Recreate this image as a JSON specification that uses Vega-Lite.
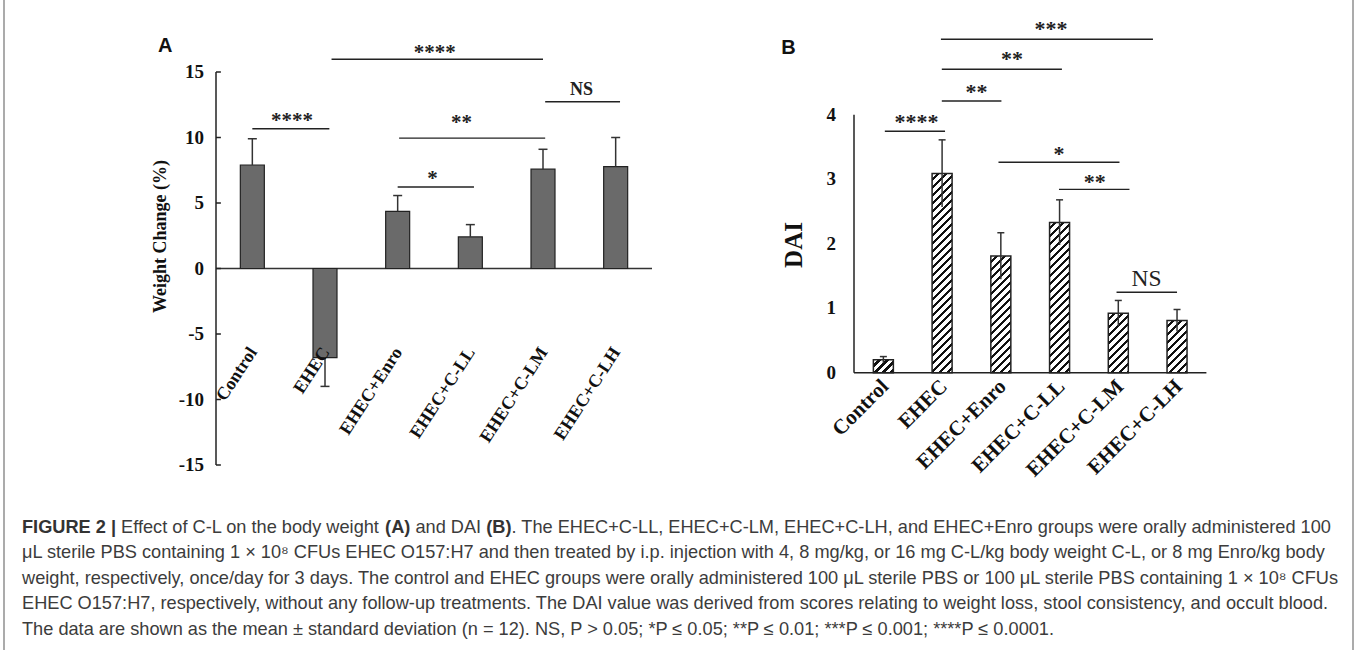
{
  "$schema": "https://vega.github.io/schema/vega-lite/v6.json",
  "width": 1357,
  "height": 650,
  "padding": 0,
  "autosize": {"type": "none"},
  "background": "#ffffff",
  "config": {"view": {"stroke": null}, "axis": {"grid": false}},
  "datasets": {
    "one": [{}],
    "barsA": [
      {"group": "Control", "i": 0, "value": 7.9, "err": 9.9},
      {"group": "EHEC", "i": 1, "value": -6.8, "err": -9.0},
      {"group": "EHEC+Enro", "i": 2, "value": 4.36, "err": 5.57},
      {"group": "EHEC+C-LL", "i": 3, "value": 2.41, "err": 3.35},
      {"group": "EHEC+C-LM", "i": 4, "value": 7.58, "err": 9.1},
      {"group": "EHEC+C-LH", "i": 5, "value": 7.78, "err": 10.0}
    ],
    "ticksA": [
      {"v": -15, "label": "-15"}, {"v": -10, "label": "-10"}, {"v": -5, "label": "-5"}, {"v": 0, "label": "0"},
      {"v": 5, "label": "5"}, {"v": 10, "label": "10"}, {"v": 15, "label": "15"}
    ],
    "sigA": [
      {"x1": 1.09, "x2": 4.0, "y": 15.97, "tx": 2.51, "ty": 15.96, "label": "****"},
      {"x1": 0, "x2": 1.06, "y": 10.67, "tx": 0.545, "ty": 10.82, "label": "****"},
      {"x1": 4.03, "x2": 5.06, "y": 12.73, "tx": 4.53, "ty": 13.21, "label": "NS"},
      {"x1": 2.02, "x2": 4.03, "y": 9.95, "tx": 2.88, "ty": 10.67, "label": "**"},
      {"x1": 2.0, "x2": 3.05, "y": 6.22, "tx": 2.48, "ty": 6.37, "label": "*"}
    ],
    "barsB": [
      {"group": "Control", "i": 0, "value": 0.2, "lo": 0.15, "hi": 0.25},
      {"group": "EHEC", "i": 1, "value": 3.09, "lo": 2.57, "hi": 3.61},
      {"group": "EHEC+Enro", "i": 2, "value": 1.81, "lo": 1.45, "hi": 2.17},
      {"group": "EHEC+C-LL", "i": 3, "value": 2.33, "lo": 1.98, "hi": 2.68},
      {"group": "EHEC+C-LM", "i": 4, "value": 0.92, "lo": 0.72, "hi": 1.12},
      {"group": "EHEC+C-LH", "i": 5, "value": 0.81, "lo": 0.64, "hi": 0.98}
    ],
    "ticksB": [
      {"v": 0, "label": "0"}, {"v": 1, "label": "1"}, {"v": 2, "label": "2"}, {"v": 3, "label": "3"}, {"v": 4, "label": "4"}
    ],
    "sigB": [
      {"x1": 0.025, "x2": 1.05, "y": 3.743, "tx": 0.565, "ty": 3.78, "label": "****"},
      {"x1": 0.995, "x2": 2.01, "y": 4.212, "tx": 1.586, "ty": 4.243, "label": "**"},
      {"x1": 0.995, "x2": 3.04, "y": 4.704, "tx": 2.19, "ty": 4.76, "label": "**"},
      {"x1": 0.98, "x2": 4.59, "y": 5.169, "tx": 2.856, "ty": 5.214, "label": "***"},
      {"x1": 1.96, "x2": 4.02, "y": 3.262, "tx": 2.99, "ty": 3.276, "label": "*"},
      {"x1": 2.99, "x2": 4.19, "y": 2.843, "tx": 3.6, "ty": 2.853, "label": "**"},
      {"x1": 3.97, "x2": 5.0, "y": 1.247, "tx": 4.48, "ty": 1.343, "label": "NS"}
    ],
    "caption": [
      {"line": 1, "seg": "head", "text": "FIGURE 2 |"},
      {"line": 1, "seg": "s1", "text": "Effect of C-L on the body weight"},
      {"line": 1, "seg": "bA", "text": "(A)"},
      {"line": 1, "seg": "s2", "text": "and DAI"},
      {"line": 1, "seg": "bB", "text": "(B)"},
      {"line": 1, "seg": "s3", "text": ". The EHEC+C-LL, EHEC+C-LM, EHEC+C-LH, and EHEC+Enro groups were orally administered 100"},
      {"line": 2, "seg": "body", "text": "μL sterile PBS containing 1 × 10⁸ CFUs EHEC O157:H7 and then treated by i.p. injection with 4, 8 mg/kg, or 16 mg C-L/kg body weight C-L, or 8 mg Enro/kg body"},
      {"line": 3, "seg": "body", "text": "weight, respectively, once/day for 3 days. The control and EHEC groups were orally administered 100 μL sterile PBS or 100 μL sterile PBS containing 1 × 10⁸ CFUs"},
      {"line": 4, "seg": "body", "text": "EHEC O157:H7, respectively, without any follow-up treatments. The DAI value was derived from scores relating to weight loss, stool consistency, and occult blood."},
      {"line": 5, "seg": "body", "text": "The data are shown as the mean ± standard deviation (n = 12). NS, P > 0.05; *P ≤ 0.05; **P ≤ 0.01; ***P ≤ 0.001; ****P ≤ 0.0001."}
    ]
  },
  "layer": [
    {
      "layer": [
        {
          "data": {"name": "one"},
          "mark": {"type": "rule", "color": "#333333", "strokeWidth": 1.5},
          "encoding": {
            "x": {"datum": -0.5, "type": "quantitative", "scale": {"domain": [-0.5, 5.5], "range": [211, 657], "nice": false, "zero": false}, "axis": null},
            "x2": {"datum": 5.5},
            "y": {"datum": 0, "type": "quantitative", "scale": {"domain": [-15, 15], "range": [465, 72], "nice": false, "zero": false}, "axis": null}
          }
        },
        {
          "data": {"name": "one"},
          "mark": {"type": "rule", "color": "#222222", "strokeWidth": 1.5},
          "encoding": {
            "x": {"datum": -0.5, "type": "quantitative", "scale": {"domain": [-0.5, 5.5], "range": [211, 657], "nice": false, "zero": false}, "axis": null},
            "y": {"datum": -15, "type": "quantitative", "scale": {"domain": [-15, 15], "range": [465, 72], "nice": false, "zero": false}, "axis": null},
            "y2": {"datum": 15}
          }
        },
        {
          "data": {"name": "ticksA"},
          "mark": {"type": "rule", "color": "#222222", "strokeWidth": 1.5},
          "encoding": {
            "x": {"datum": -0.5, "type": "quantitative", "scale": {"domain": [-0.5, 5.5], "range": [211, 657], "nice": false, "zero": false}, "axis": null},
            "x2": {"datum": -0.4327},
            "y": {"field": "v", "type": "quantitative", "scale": {"domain": [-15, 15], "range": [465, 72], "nice": false, "zero": false}, "axis": null}
          }
        },
        {
          "data": {"name": "ticksA"},
          "mark": {"type": "text", "font": "Liberation Serif", "fontWeight": "bold", "fontSize": 19, "align": "right", "baseline": "middle", "color": "#111111", "dx": -12},
          "encoding": {
            "x": {"datum": -0.5, "type": "quantitative", "scale": {"domain": [-0.5, 5.5], "range": [211, 657], "nice": false, "zero": false}, "axis": null},
            "y": {"field": "v", "type": "quantitative", "scale": {"domain": [-15, 15], "range": [465, 72], "nice": false, "zero": false}, "axis": null},
            "text": {"field": "label"}
          }
        },
        {
          "data": {"name": "one"},
          "mark": {"type": "text", "text": "Weight Change (%)", "angle": 270, "font": "Liberation Serif", "fontWeight": "bold", "fontSize": 18, "align": "center", "baseline": "middle", "color": "#111111"},
          "encoding": {
            "x": {"datum": -1.26, "type": "quantitative", "scale": {"domain": [-0.5, 5.5], "range": [211, 657], "nice": false, "zero": false}, "axis": null},
            "y": {"datum": 2.44, "type": "quantitative", "scale": {"domain": [-15, 15], "range": [465, 72], "nice": false, "zero": false}, "axis": null}
          }
        },
        {
          "data": {"name": "barsA"},
          "mark": {"type": "bar", "width": 24, "fill": "#6a6a6a", "stroke": "#222222", "strokeWidth": 1.2},
          "encoding": {
            "x": {"field": "i", "type": "quantitative", "scale": {"domain": [-0.5, 5.5], "range": [211, 657], "nice": false, "zero": false}, "axis": null},
            "y": {"field": "value", "type": "quantitative", "scale": {"domain": [-15, 15], "range": [465, 72], "nice": false, "zero": false}, "axis": null},
            "y2": {"datum": 0}
          }
        },
        {
          "data": {"name": "barsA"},
          "mark": {"type": "rule", "color": "#333333", "strokeWidth": 1.5},
          "encoding": {
            "x": {"field": "i", "type": "quantitative", "scale": {"domain": [-0.5, 5.5], "range": [211, 657], "nice": false, "zero": false}, "axis": null},
            "y": {"field": "value", "type": "quantitative", "scale": {"domain": [-15, 15], "range": [465, 72], "nice": false, "zero": false}, "axis": null},
            "y2": {"field": "err"}
          }
        },
        {
          "data": {"name": "barsA"},
          "mark": {"type": "tick", "orient": "horizontal", "size": 9, "thickness": 1.5, "color": "#333333", "opacity": 1},
          "encoding": {
            "x": {"field": "i", "type": "quantitative", "scale": {"domain": [-0.5, 5.5], "range": [211, 657], "nice": false, "zero": false}, "axis": null},
            "y": {"field": "err", "type": "quantitative", "scale": {"domain": [-15, 15], "range": [465, 72], "nice": false, "zero": false}, "axis": null}
          }
        },
        {
          "data": {"name": "barsA"},
          "mark": {"type": "text", "angle": 303, "font": "Liberation Serif", "fontWeight": "bold", "fontSize": 18, "align": "right", "baseline": "middle", "color": "#111111", "dx": 2},
          "encoding": {
            "x": {"field": "i", "type": "quantitative", "scale": {"domain": [-0.5, 5.5], "range": [211, 657], "nice": false, "zero": false}, "axis": null},
            "y": {"datum": -6.3, "type": "quantitative", "scale": {"domain": [-15, 15], "range": [465, 72], "nice": false, "zero": false}, "axis": null},
            "text": {"field": "group"}
          }
        },
        {
          "data": {"name": "sigA"},
          "mark": {"type": "rule", "color": "#222222", "strokeWidth": 1.4},
          "encoding": {
            "x": {"field": "x1", "type": "quantitative", "scale": {"domain": [-0.5, 5.5], "range": [211, 657], "nice": false, "zero": false}, "axis": null},
            "x2": {"field": "x2"},
            "y": {"field": "y", "type": "quantitative", "scale": {"domain": [-15, 15], "range": [465, 72], "nice": false, "zero": false}, "axis": null}
          }
        },
        {
          "data": {"name": "sigA"},
          "mark": {"type": "text", "font": "Liberation Serif", "fontWeight": "bold", "align": "center", "baseline": "alphabetic", "color": "#222222"},
          "encoding": {
            "x": {"field": "tx", "type": "quantitative", "scale": {"domain": [-0.5, 5.5], "range": [211, 657], "nice": false, "zero": false}, "axis": null},
            "y": {"field": "ty", "type": "quantitative", "scale": {"domain": [-15, 15], "range": [465, 72], "nice": false, "zero": false}, "axis": null},
            "text": {"field": "label"},
            "size": {"condition": {"test": "datum.label === 'NS'", "value": 18}, "value": 21}
          }
        },
        {
          "data": {"name": "one"},
          "mark": {"type": "text", "text": "A", "font": "Liberation Sans", "fontWeight": "bold", "fontSize": 20, "align": "center", "baseline": "alphabetic", "color": "#111111"},
          "encoding": {
            "x": {"datum": -1.2, "type": "quantitative", "scale": {"domain": [-0.5, 5.5], "range": [211, 657], "nice": false, "zero": false}, "axis": null},
            "y": {"datum": 16.53, "type": "quantitative", "scale": {"domain": [-15, 15], "range": [465, 72], "nice": false, "zero": false}, "axis": null}
          }
        }
      ]
    },
    {
      "layer": [
        {
          "data": {"name": "barsB"},
          "mark": {"type": "bar", "width": 20, "stroke": "#222222", "strokeWidth": 1.5},
          "encoding": {
            "x": {"field": "i", "type": "quantitative", "scale": {"domain": [-0.5, 5.5], "range": [849, 1211.4], "nice": false, "zero": false}, "axis": null},
            "y": {"field": "value", "type": "quantitative", "scale": {"domain": [0, 4], "range": [372.7, 114.7], "nice": false, "zero": false}, "axis": null},
            "y2": {"datum": 0},
            "fill": {
              "condition": [
                {"test": "datum.group === 'Control'", "value": {"gradient": "linear", "x1": 0, "y1": 0, "x2": 1.162, "y2": 0.749, "stops": [
                  {"offset": 0, "color": "#fff"}, {"offset": 0.1411, "color": "#fff"}, {"offset": 0.1411, "color": "#111"}, {"offset": 0.2433, "color": "#111"},
                  {"offset": 0.2433, "color": "#fff"}, {"offset": 0.3844, "color": "#fff"}, {"offset": 0.3844, "color": "#111"}, {"offset": 0.4866, "color": "#111"},
                  {"offset": 0.4866, "color": "#fff"}, {"offset": 0.6277, "color": "#fff"}, {"offset": 0.6277, "color": "#111"}, {"offset": 0.7299, "color": "#111"},
                  {"offset": 0.7299, "color": "#fff"}, {"offset": 0.871, "color": "#fff"}, {"offset": 0.871, "color": "#111"}, {"offset": 0.9732, "color": "#111"},
                  {"offset": 0.9732, "color": "#fff"}, {"offset": 1, "color": "#fff"}]}},
                {"test": "datum.group === 'EHEC'", "value": {"gradient": "linear", "x1": 0, "y1": 0, "x2": 0.1093, "y2": 1.0894, "stops": [
                  {"offset": 0, "color": "#fff"}, {"offset": 0.0212, "color": "#fff"}, {"offset": 0.0212, "color": "#111"}, {"offset": 0.0365, "color": "#111"},
                  {"offset": 0.0365, "color": "#fff"}, {"offset": 0.0577, "color": "#fff"}, {"offset": 0.0577, "color": "#111"}, {"offset": 0.073, "color": "#111"},
                  {"offset": 0.073, "color": "#fff"}, {"offset": 0.0942, "color": "#fff"}, {"offset": 0.0942, "color": "#111"}, {"offset": 0.1095, "color": "#111"},
                  {"offset": 0.1095, "color": "#fff"}, {"offset": 0.1307, "color": "#fff"}, {"offset": 0.1307, "color": "#111"}, {"offset": 0.146, "color": "#111"},
                  {"offset": 0.146, "color": "#fff"}, {"offset": 0.1672, "color": "#fff"}, {"offset": 0.1672, "color": "#111"}, {"offset": 0.1825, "color": "#111"},
                  {"offset": 0.1825, "color": "#fff"}, {"offset": 0.2037, "color": "#fff"}, {"offset": 0.2037, "color": "#111"}, {"offset": 0.219, "color": "#111"},
                  {"offset": 0.219, "color": "#fff"}, {"offset": 0.2402, "color": "#fff"}, {"offset": 0.2402, "color": "#111"}, {"offset": 0.2555, "color": "#111"},
                  {"offset": 0.2555, "color": "#fff"}, {"offset": 0.2767, "color": "#fff"}, {"offset": 0.2767, "color": "#111"}, {"offset": 0.292, "color": "#111"},
                  {"offset": 0.292, "color": "#fff"}, {"offset": 0.3132, "color": "#fff"}, {"offset": 0.3132, "color": "#111"}, {"offset": 0.3285, "color": "#111"},
                  {"offset": 0.3285, "color": "#fff"}, {"offset": 0.3497, "color": "#fff"}, {"offset": 0.3497, "color": "#111"}, {"offset": 0.365, "color": "#111"},
                  {"offset": 0.365, "color": "#fff"}, {"offset": 0.3862, "color": "#fff"}, {"offset": 0.3862, "color": "#111"}, {"offset": 0.4015, "color": "#111"},
                  {"offset": 0.4015, "color": "#fff"}, {"offset": 0.4227, "color": "#fff"}, {"offset": 0.4227, "color": "#111"}, {"offset": 0.438, "color": "#111"},
                  {"offset": 0.438, "color": "#fff"}, {"offset": 0.4592, "color": "#fff"}, {"offset": 0.4592, "color": "#111"}, {"offset": 0.4745, "color": "#111"},
                  {"offset": 0.4745, "color": "#fff"}, {"offset": 0.4957, "color": "#fff"}, {"offset": 0.4957, "color": "#111"}, {"offset": 0.511, "color": "#111"},
                  {"offset": 0.511, "color": "#fff"}, {"offset": 0.5322, "color": "#fff"}, {"offset": 0.5322, "color": "#111"}, {"offset": 0.5475, "color": "#111"},
                  {"offset": 0.5475, "color": "#fff"}, {"offset": 0.5687, "color": "#fff"}, {"offset": 0.5687, "color": "#111"}, {"offset": 0.584, "color": "#111"},
                  {"offset": 0.584, "color": "#fff"}, {"offset": 0.6052, "color": "#fff"}, {"offset": 0.6052, "color": "#111"}, {"offset": 0.6205, "color": "#111"},
                  {"offset": 0.6205, "color": "#fff"}, {"offset": 0.6417, "color": "#fff"}, {"offset": 0.6417, "color": "#111"}, {"offset": 0.657, "color": "#111"},
                  {"offset": 0.657, "color": "#fff"}, {"offset": 0.6782, "color": "#fff"}, {"offset": 0.6782, "color": "#111"}, {"offset": 0.6935, "color": "#111"},
                  {"offset": 0.6935, "color": "#fff"}, {"offset": 0.7147, "color": "#fff"}, {"offset": 0.7147, "color": "#111"}, {"offset": 0.73, "color": "#111"},
                  {"offset": 0.73, "color": "#fff"}, {"offset": 0.7512, "color": "#fff"}, {"offset": 0.7512, "color": "#111"}, {"offset": 0.7665, "color": "#111"},
                  {"offset": 0.7665, "color": "#fff"}, {"offset": 0.7877, "color": "#fff"}, {"offset": 0.7877, "color": "#111"}, {"offset": 0.803, "color": "#111"},
                  {"offset": 0.803, "color": "#fff"}, {"offset": 0.8242, "color": "#fff"}, {"offset": 0.8242, "color": "#111"}, {"offset": 0.8395, "color": "#111"},
                  {"offset": 0.8395, "color": "#fff"}, {"offset": 0.8607, "color": "#fff"}, {"offset": 0.8607, "color": "#111"}, {"offset": 0.876, "color": "#111"},
                  {"offset": 0.876, "color": "#fff"}, {"offset": 0.8972, "color": "#fff"}, {"offset": 0.8972, "color": "#111"}, {"offset": 0.9125, "color": "#111"},
                  {"offset": 0.9125, "color": "#fff"}, {"offset": 0.9337, "color": "#fff"}, {"offset": 0.9337, "color": "#111"}, {"offset": 0.949, "color": "#111"},
                  {"offset": 0.949, "color": "#fff"}, {"offset": 0.9702, "color": "#fff"}, {"offset": 0.9702, "color": "#111"}, {"offset": 0.9855, "color": "#111"},
                  {"offset": 0.9855, "color": "#fff"}, {"offset": 1, "color": "#fff"}]}},
                {"test": "datum.group === 'EHEC+Enro'", "value": {"gradient": "linear", "x1": 0, "y1": 0, "x2": 0.195, "y2": 1.138, "stops": [
                  {"offset": 0, "color": "#fff"}, {"offset": 0.0339, "color": "#fff"}, {"offset": 0.0339, "color": "#111"}, {"offset": 0.0585, "color": "#111"},
                  {"offset": 0.0585, "color": "#fff"}, {"offset": 0.0924, "color": "#fff"}, {"offset": 0.0924, "color": "#111"}, {"offset": 0.117, "color": "#111"},
                  {"offset": 0.117, "color": "#fff"}, {"offset": 0.1509, "color": "#fff"}, {"offset": 0.1509, "color": "#111"}, {"offset": 0.1754, "color": "#111"},
                  {"offset": 0.1754, "color": "#fff"}, {"offset": 0.2094, "color": "#fff"}, {"offset": 0.2094, "color": "#111"}, {"offset": 0.2339, "color": "#111"},
                  {"offset": 0.2339, "color": "#fff"}, {"offset": 0.2678, "color": "#fff"}, {"offset": 0.2678, "color": "#111"}, {"offset": 0.2924, "color": "#111"},
                  {"offset": 0.2924, "color": "#fff"}, {"offset": 0.3263, "color": "#fff"}, {"offset": 0.3263, "color": "#111"}, {"offset": 0.3509, "color": "#111"},
                  {"offset": 0.3509, "color": "#fff"}, {"offset": 0.3848, "color": "#fff"}, {"offset": 0.3848, "color": "#111"}, {"offset": 0.4094, "color": "#111"},
                  {"offset": 0.4094, "color": "#fff"}, {"offset": 0.4433, "color": "#fff"}, {"offset": 0.4433, "color": "#111"}, {"offset": 0.4678, "color": "#111"},
                  {"offset": 0.4678, "color": "#fff"}, {"offset": 0.5018, "color": "#fff"}, {"offset": 0.5018, "color": "#111"}, {"offset": 0.5263, "color": "#111"},
                  {"offset": 0.5263, "color": "#fff"}, {"offset": 0.5602, "color": "#fff"}, {"offset": 0.5602, "color": "#111"}, {"offset": 0.5848, "color": "#111"},
                  {"offset": 0.5848, "color": "#fff"}, {"offset": 0.6187, "color": "#fff"}, {"offset": 0.6187, "color": "#111"}, {"offset": 0.6433, "color": "#111"},
                  {"offset": 0.6433, "color": "#fff"}, {"offset": 0.6772, "color": "#fff"}, {"offset": 0.6772, "color": "#111"}, {"offset": 0.7018, "color": "#111"},
                  {"offset": 0.7018, "color": "#fff"}, {"offset": 0.7357, "color": "#fff"}, {"offset": 0.7357, "color": "#111"}, {"offset": 0.7602, "color": "#111"},
                  {"offset": 0.7602, "color": "#fff"}, {"offset": 0.7942, "color": "#fff"}, {"offset": 0.7942, "color": "#111"}, {"offset": 0.8187, "color": "#111"},
                  {"offset": 0.8187, "color": "#fff"}, {"offset": 0.8526, "color": "#fff"}, {"offset": 0.8526, "color": "#111"}, {"offset": 0.8772, "color": "#111"},
                  {"offset": 0.8772, "color": "#fff"}, {"offset": 0.9111, "color": "#fff"}, {"offset": 0.9111, "color": "#111"}, {"offset": 0.9357, "color": "#111"},
                  {"offset": 0.9357, "color": "#fff"}, {"offset": 0.9696, "color": "#fff"}, {"offset": 0.9696, "color": "#111"}, {"offset": 0.9942, "color": "#111"},
                  {"offset": 0.9942, "color": "#fff"}, {"offset": 1, "color": "#fff"}]}},
                {"test": "datum.group === 'EHEC+C-LL'", "value": {"gradient": "linear", "x1": 0, "y1": 0, "x2": 0.1482, "y2": 1.1134, "stops": [
                  {"offset": 0, "color": "#fff"}, {"offset": 0.0272, "color": "#fff"}, {"offset": 0.0272, "color": "#111"}, {"offset": 0.0469, "color": "#111"},
                  {"offset": 0.0469, "color": "#fff"}, {"offset": 0.0742, "color": "#fff"}, {"offset": 0.0742, "color": "#111"}, {"offset": 0.0939, "color": "#111"},
                  {"offset": 0.0939, "color": "#fff"}, {"offset": 0.1211, "color": "#fff"}, {"offset": 0.1211, "color": "#111"}, {"offset": 0.1408, "color": "#111"},
                  {"offset": 0.1408, "color": "#fff"}, {"offset": 0.1681, "color": "#fff"}, {"offset": 0.1681, "color": "#111"}, {"offset": 0.1878, "color": "#111"},
                  {"offset": 0.1878, "color": "#fff"}, {"offset": 0.215, "color": "#fff"}, {"offset": 0.215, "color": "#111"}, {"offset": 0.2347, "color": "#111"},
                  {"offset": 0.2347, "color": "#fff"}, {"offset": 0.262, "color": "#fff"}, {"offset": 0.262, "color": "#111"}, {"offset": 0.2817, "color": "#111"},
                  {"offset": 0.2817, "color": "#fff"}, {"offset": 0.3089, "color": "#fff"}, {"offset": 0.3089, "color": "#111"}, {"offset": 0.3286, "color": "#111"},
                  {"offset": 0.3286, "color": "#fff"}, {"offset": 0.3559, "color": "#fff"}, {"offset": 0.3559, "color": "#111"}, {"offset": 0.3756, "color": "#111"},
                  {"offset": 0.3756, "color": "#fff"}, {"offset": 0.4028, "color": "#fff"}, {"offset": 0.4028, "color": "#111"}, {"offset": 0.4225, "color": "#111"},
                  {"offset": 0.4225, "color": "#fff"}, {"offset": 0.4498, "color": "#fff"}, {"offset": 0.4498, "color": "#111"}, {"offset": 0.4695, "color": "#111"},
                  {"offset": 0.4695, "color": "#fff"}, {"offset": 0.4967, "color": "#fff"}, {"offset": 0.4967, "color": "#111"}, {"offset": 0.5164, "color": "#111"},
                  {"offset": 0.5164, "color": "#fff"}, {"offset": 0.5437, "color": "#fff"}, {"offset": 0.5437, "color": "#111"}, {"offset": 0.5634, "color": "#111"},
                  {"offset": 0.5634, "color": "#fff"}, {"offset": 0.5906, "color": "#fff"}, {"offset": 0.5906, "color": "#111"}, {"offset": 0.6103, "color": "#111"},
                  {"offset": 0.6103, "color": "#fff"}, {"offset": 0.6376, "color": "#fff"}, {"offset": 0.6376, "color": "#111"}, {"offset": 0.6573, "color": "#111"},
                  {"offset": 0.6573, "color": "#fff"}, {"offset": 0.6845, "color": "#fff"}, {"offset": 0.6845, "color": "#111"}, {"offset": 0.7042, "color": "#111"},
                  {"offset": 0.7042, "color": "#fff"}, {"offset": 0.7315, "color": "#fff"}, {"offset": 0.7315, "color": "#111"}, {"offset": 0.7512, "color": "#111"},
                  {"offset": 0.7512, "color": "#fff"}, {"offset": 0.7784, "color": "#fff"}, {"offset": 0.7784, "color": "#111"}, {"offset": 0.7981, "color": "#111"},
                  {"offset": 0.7981, "color": "#fff"}, {"offset": 0.8254, "color": "#fff"}, {"offset": 0.8254, "color": "#111"}, {"offset": 0.8451, "color": "#111"},
                  {"offset": 0.8451, "color": "#fff"}, {"offset": 0.8723, "color": "#fff"}, {"offset": 0.8723, "color": "#111"}, {"offset": 0.892, "color": "#111"},
                  {"offset": 0.892, "color": "#fff"}, {"offset": 0.9193, "color": "#fff"}, {"offset": 0.9193, "color": "#111"}, {"offset": 0.939, "color": "#111"},
                  {"offset": 0.939, "color": "#fff"}, {"offset": 0.9662, "color": "#fff"}, {"offset": 0.9662, "color": "#111"}, {"offset": 0.9859, "color": "#111"},
                  {"offset": 0.9859, "color": "#fff"}, {"offset": 1, "color": "#fff"}]}},
                {"test": "datum.group === 'EHEC+C-LM'", "value": {"gradient": "linear", "x1": 0, "y1": 0, "x2": 0.405, "y2": 1.2009, "stops": [
                  {"offset": 0, "color": "#fff"}, {"offset": 0.0586, "color": "#fff"}, {"offset": 0.0586, "color": "#111"}, {"offset": 0.101, "color": "#111"},
                  {"offset": 0.101, "color": "#fff"}, {"offset": 0.1596, "color": "#fff"}, {"offset": 0.1596, "color": "#111"}, {"offset": 0.202, "color": "#111"},
                  {"offset": 0.202, "color": "#fff"}, {"offset": 0.2606, "color": "#fff"}, {"offset": 0.2606, "color": "#111"}, {"offset": 0.303, "color": "#111"},
                  {"offset": 0.303, "color": "#fff"}, {"offset": 0.3616, "color": "#fff"}, {"offset": 0.3616, "color": "#111"}, {"offset": 0.404, "color": "#111"},
                  {"offset": 0.404, "color": "#fff"}, {"offset": 0.4626, "color": "#fff"}, {"offset": 0.4626, "color": "#111"}, {"offset": 0.5051, "color": "#111"},
                  {"offset": 0.5051, "color": "#fff"}, {"offset": 0.5636, "color": "#fff"}, {"offset": 0.5636, "color": "#111"}, {"offset": 0.6061, "color": "#111"},
                  {"offset": 0.6061, "color": "#fff"}, {"offset": 0.6647, "color": "#fff"}, {"offset": 0.6647, "color": "#111"}, {"offset": 0.7071, "color": "#111"},
                  {"offset": 0.7071, "color": "#fff"}, {"offset": 0.7657, "color": "#fff"}, {"offset": 0.7657, "color": "#111"}, {"offset": 0.8081, "color": "#111"},
                  {"offset": 0.8081, "color": "#fff"}, {"offset": 0.8667, "color": "#fff"}, {"offset": 0.8667, "color": "#111"}, {"offset": 0.9091, "color": "#111"},
                  {"offset": 0.9091, "color": "#fff"}, {"offset": 0.9677, "color": "#fff"}, {"offset": 0.9677, "color": "#111"}, {"offset": 1, "color": "#111"}]}},
                {"test": "datum.group === 'EHEC+C-LH'", "value": {"gradient": "linear", "x1": 0, "y1": 0, "x2": 0.462, "y2": 1.206, "stops": [
                  {"offset": 0, "color": "#fff"}, {"offset": 0.0644, "color": "#fff"}, {"offset": 0.0644, "color": "#111"}, {"offset": 0.1111, "color": "#111"},
                  {"offset": 0.1111, "color": "#fff"}, {"offset": 0.1756, "color": "#fff"}, {"offset": 0.1756, "color": "#111"}, {"offset": 0.2222, "color": "#111"},
                  {"offset": 0.2222, "color": "#fff"}, {"offset": 0.2867, "color": "#fff"}, {"offset": 0.2867, "color": "#111"}, {"offset": 0.3333, "color": "#111"},
                  {"offset": 0.3333, "color": "#fff"}, {"offset": 0.3978, "color": "#fff"}, {"offset": 0.3978, "color": "#111"}, {"offset": 0.4444, "color": "#111"},
                  {"offset": 0.4444, "color": "#fff"}, {"offset": 0.5089, "color": "#fff"}, {"offset": 0.5089, "color": "#111"}, {"offset": 0.5556, "color": "#111"},
                  {"offset": 0.5556, "color": "#fff"}, {"offset": 0.62, "color": "#fff"}, {"offset": 0.62, "color": "#111"}, {"offset": 0.6667, "color": "#111"},
                  {"offset": 0.6667, "color": "#fff"}, {"offset": 0.7311, "color": "#fff"}, {"offset": 0.7311, "color": "#111"}, {"offset": 0.7778, "color": "#111"},
                  {"offset": 0.7778, "color": "#fff"}, {"offset": 0.8422, "color": "#fff"}, {"offset": 0.8422, "color": "#111"}, {"offset": 0.8889, "color": "#111"},
                  {"offset": 0.8889, "color": "#fff"}, {"offset": 0.9533, "color": "#fff"}, {"offset": 0.9533, "color": "#111"}, {"offset": 1, "color": "#111"}]}}
              ],
              "value": "#ffffff"
            }
          }
        },
        {
          "data": {"name": "one"},
          "mark": {"type": "rule", "color": "#222222", "strokeWidth": 1.5},
          "encoding": {
            "x": {"datum": -0.5, "type": "quantitative", "scale": {"domain": [-0.5, 5.5], "range": [849, 1211.4], "nice": false, "zero": false}, "axis": null},
            "y": {"datum": 0, "type": "quantitative", "scale": {"domain": [0, 4], "range": [372.7, 114.7], "nice": false, "zero": false}, "axis": null},
            "y2": {"datum": 4}
          }
        },
        {
          "data": {"name": "one"},
          "mark": {"type": "rule", "color": "#222222", "strokeWidth": 1.5},
          "encoding": {
            "x": {"datum": -0.5, "type": "quantitative", "scale": {"domain": [-0.5, 5.5], "range": [849, 1211.4], "nice": false, "zero": false}, "axis": null},
            "x2": {"datum": 5.5},
            "y": {"datum": 0, "type": "quantitative", "scale": {"domain": [0, 4], "range": [372.7, 114.7], "nice": false, "zero": false}, "axis": null}
          }
        },
        {
          "data": {"name": "ticksB"},
          "mark": {"type": "text", "font": "Liberation Serif", "fontWeight": "bold", "fontSize": 19, "align": "right", "baseline": "middle", "color": "#111111", "dx": -18},
          "encoding": {
            "x": {"datum": -0.5, "type": "quantitative", "scale": {"domain": [-0.5, 5.5], "range": [849, 1211.4], "nice": false, "zero": false}, "axis": null},
            "y": {"field": "v", "type": "quantitative", "scale": {"domain": [0, 4], "range": [372.7, 114.7], "nice": false, "zero": false}, "axis": null},
            "text": {"field": "label"}
          }
        },
        {
          "data": {"name": "one"},
          "mark": {"type": "text", "text": "DAI", "angle": 270, "font": "Liberation Serif", "fontWeight": "bold", "fontSize": 25, "align": "center", "baseline": "middle", "color": "#111111"},
          "encoding": {
            "x": {"datum": -1.53, "type": "quantitative", "scale": {"domain": [-0.5, 5.5], "range": [849, 1211.4], "nice": false, "zero": false}, "axis": null},
            "y": {"datum": 1.98, "type": "quantitative", "scale": {"domain": [0, 4], "range": [372.7, 114.7], "nice": false, "zero": false}, "axis": null}
          }
        },
        {
          "data": {"name": "barsB"},
          "mark": {"type": "text", "angle": 315, "font": "Liberation Serif", "fontWeight": "bold", "fontSize": 21, "align": "right", "baseline": "middle", "color": "#111111", "dx": 3},
          "encoding": {
            "x": {"field": "i", "type": "quantitative", "scale": {"domain": [-0.5, 5.5], "range": [849, 1211.4], "nice": false, "zero": false}, "axis": null},
            "y": {"datum": -0.2, "type": "quantitative", "scale": {"domain": [0, 4], "range": [372.7, 114.7], "nice": false, "zero": false}, "axis": null},
            "text": {"field": "group"}
          }
        },
        {
          "data": {"name": "barsB"},
          "mark": {"type": "rule", "color": "#333333", "strokeWidth": 1.5},
          "encoding": {
            "x": {"field": "i", "type": "quantitative", "scale": {"domain": [-0.5, 5.5], "range": [849, 1211.4], "nice": false, "zero": false}, "axis": null},
            "y": {"field": "lo", "type": "quantitative", "scale": {"domain": [0, 4], "range": [372.7, 114.7], "nice": false, "zero": false}, "axis": null},
            "y2": {"field": "hi"}
          }
        },
        {
          "data": {"name": "barsB"},
          "mark": {"type": "tick", "orient": "horizontal", "size": 7, "thickness": 1.5, "color": "#333333", "opacity": 1},
          "encoding": {
            "x": {"field": "i", "type": "quantitative", "scale": {"domain": [-0.5, 5.5], "range": [849, 1211.4], "nice": false, "zero": false}, "axis": null},
            "y": {"field": "hi", "type": "quantitative", "scale": {"domain": [0, 4], "range": [372.7, 114.7], "nice": false, "zero": false}, "axis": null}
          }
        },
        {
          "data": {"name": "sigB"},
          "mark": {"type": "rule", "color": "#222222", "strokeWidth": 1.4},
          "encoding": {
            "x": {"field": "x1", "type": "quantitative", "scale": {"domain": [-0.5, 5.5], "range": [849, 1211.4], "nice": false, "zero": false}, "axis": null},
            "x2": {"field": "x2"},
            "y": {"field": "y", "type": "quantitative", "scale": {"domain": [0, 4], "range": [372.7, 114.7], "nice": false, "zero": false}, "axis": null}
          }
        },
        {
          "data": {"name": "sigB"},
          "transform": [{"filter": "datum.label !== 'NS'"}],
          "mark": {"type": "text", "font": "Liberation Serif", "fontWeight": "bold", "fontSize": 22, "align": "center", "baseline": "alphabetic", "color": "#222222"},
          "encoding": {
            "x": {"field": "tx", "type": "quantitative", "scale": {"domain": [-0.5, 5.5], "range": [849, 1211.4], "nice": false, "zero": false}, "axis": null},
            "y": {"field": "ty", "type": "quantitative", "scale": {"domain": [0, 4], "range": [372.7, 114.7], "nice": false, "zero": false}, "axis": null},
            "text": {"field": "label"}
          }
        },
        {
          "data": {"name": "sigB"},
          "transform": [{"filter": "datum.label === 'NS'"}],
          "mark": {"type": "text", "font": "Liberation Serif", "fontSize": 23.5, "align": "center", "baseline": "alphabetic", "color": "#222222"},
          "encoding": {
            "x": {"field": "tx", "type": "quantitative", "scale": {"domain": [-0.5, 5.5], "range": [849, 1211.4], "nice": false, "zero": false}, "axis": null},
            "y": {"field": "ty", "type": "quantitative", "scale": {"domain": [0, 4], "range": [372.7, 114.7], "nice": false, "zero": false}, "axis": null},
            "text": {"field": "label"}
          }
        },
        {
          "data": {"name": "one"},
          "mark": {"type": "text", "text": "B", "font": "Liberation Sans", "fontWeight": "bold", "fontSize": 20, "align": "center", "baseline": "alphabetic", "color": "#111111"},
          "encoding": {
            "x": {"datum": -1.614, "type": "quantitative", "scale": {"domain": [-0.5, 5.5], "range": [849, 1211.4], "nice": false, "zero": false}, "axis": null},
            "y": {"datum": 4.944, "type": "quantitative", "scale": {"domain": [0, 4], "range": [372.7, 114.7], "nice": false, "zero": false}, "axis": null}
          }
        }
      ]
    },
    {
      "layer": [
        {
          "data": {"name": "one"},
          "mark": {"type": "rule", "color": "#8f8f8f", "strokeWidth": 1.5},
          "encoding": {
            "x": {"datum": 0, "type": "quantitative", "scale": {"domain": [0, 1], "range": [4, 1353], "nice": false, "zero": false}, "axis": null}
          }
        },
        {
          "data": {"name": "one"},
          "mark": {"type": "rule", "color": "#8f8f8f", "strokeWidth": 1.5},
          "encoding": {
            "x": {"datum": 1, "type": "quantitative", "scale": {"domain": [0, 1], "range": [4, 1353], "nice": false, "zero": false}, "axis": null}
          }
        },
        {
          "data": {"name": "caption"},
          "transform": [{"filter": "datum.seg === 'head'"}],
          "mark": {"type": "text", "font": "Liberation Sans", "fontWeight": "bold", "fontSize": 18.2, "align": "left", "baseline": "middle", "color": "#333333", "dx": 18},
          "encoding": {
            "x": {"datum": 0, "type": "quantitative", "scale": {"domain": [0, 1], "range": [4, 1353], "nice": false, "zero": false}, "axis": null},
            "y": {"field": "line", "type": "quantitative", "scale": {"domain": [1, 5], "range": [527.5, 629.5], "nice": false, "zero": false}, "axis": null},
            "text": {"field": "text"}
          }
        },
        {
          "data": {"name": "caption"},
          "transform": [{"filter": "datum.seg === 's1'"}],
          "mark": {"type": "text", "font": "Liberation Sans", "fontSize": 18.2, "align": "left", "baseline": "middle", "color": "#3c3c3c", "dx": 117.1},
          "encoding": {
            "x": {"datum": 0, "type": "quantitative", "scale": {"domain": [0, 1], "range": [4, 1353], "nice": false, "zero": false}, "axis": null},
            "y": {"field": "line", "type": "quantitative", "scale": {"domain": [1, 5], "range": [527.5, 629.5], "nice": false, "zero": false}, "axis": null},
            "text": {"field": "text"}
          }
        },
        {
          "data": {"name": "caption"},
          "transform": [{"filter": "datum.seg === 'bA'"}],
          "mark": {"type": "text", "font": "Liberation Sans", "fontWeight": "bold", "fontSize": 18.2, "align": "left", "baseline": "middle", "color": "#333333", "dx": 381.1},
          "encoding": {
            "x": {"datum": 0, "type": "quantitative", "scale": {"domain": [0, 1], "range": [4, 1353], "nice": false, "zero": false}, "axis": null},
            "y": {"field": "line", "type": "quantitative", "scale": {"domain": [1, 5], "range": [527.5, 629.5], "nice": false, "zero": false}, "axis": null},
            "text": {"field": "text"}
          }
        },
        {
          "data": {"name": "caption"},
          "transform": [{"filter": "datum.seg === 's2'"}],
          "mark": {"type": "text", "font": "Liberation Sans", "fontSize": 18.2, "align": "left", "baseline": "middle", "color": "#3c3c3c", "dx": 411.4},
          "encoding": {
            "x": {"datum": 0, "type": "quantitative", "scale": {"domain": [0, 1], "range": [4, 1353], "nice": false, "zero": false}, "axis": null},
            "y": {"field": "line", "type": "quantitative", "scale": {"domain": [1, 5], "range": [527.5, 629.5], "nice": false, "zero": false}, "axis": null},
            "text": {"field": "text"}
          }
        },
        {
          "data": {"name": "caption"},
          "transform": [{"filter": "datum.seg === 'bB'"}],
          "mark": {"type": "text", "font": "Liberation Sans", "fontWeight": "bold", "fontSize": 18.2, "align": "left", "baseline": "middle", "color": "#333333", "dx": 482.2},
          "encoding": {
            "x": {"datum": 0, "type": "quantitative", "scale": {"domain": [0, 1], "range": [4, 1353], "nice": false, "zero": false}, "axis": null},
            "y": {"field": "line", "type": "quantitative", "scale": {"domain": [1, 5], "range": [527.5, 629.5], "nice": false, "zero": false}, "axis": null},
            "text": {"field": "text"}
          }
        },
        {
          "data": {"name": "caption"},
          "transform": [{"filter": "datum.seg === 's3'"}],
          "mark": {"type": "text", "font": "Liberation Sans", "fontSize": 18.2, "align": "left", "baseline": "middle", "color": "#3c3c3c", "dx": 507.5},
          "encoding": {
            "x": {"datum": 0, "type": "quantitative", "scale": {"domain": [0, 1], "range": [4, 1353], "nice": false, "zero": false}, "axis": null},
            "y": {"field": "line", "type": "quantitative", "scale": {"domain": [1, 5], "range": [527.5, 629.5], "nice": false, "zero": false}, "axis": null},
            "text": {"field": "text"}
          }
        },
        {
          "data": {"name": "caption"},
          "transform": [{"filter": "datum.seg === 'body'"}],
          "mark": {"type": "text", "font": "Liberation Sans", "fontSize": 18.2, "align": "left", "baseline": "middle", "color": "#3c3c3c", "dx": 18},
          "encoding": {
            "x": {"datum": 0, "type": "quantitative", "scale": {"domain": [0, 1], "range": [4, 1353], "nice": false, "zero": false}, "axis": null},
            "y": {"field": "line", "type": "quantitative", "scale": {"domain": [1, 5], "range": [527.5, 629.5], "nice": false, "zero": false}, "axis": null},
            "text": {"field": "text"}
          }
        }
      ]
    }
  ],
  "resolve": {"scale": {"x": "independent", "y": "independent"}}
}
